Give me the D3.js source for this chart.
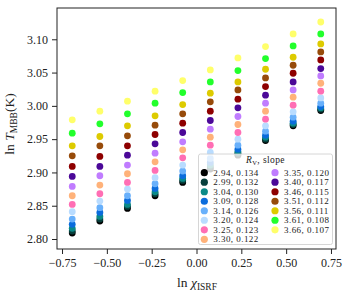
<!DOCTYPE html>
<html>
<head>
<meta charset="utf-8">
<script src="https://cdn.jsdelivr.net/npm/d3@7"></script>
<style>
  body { margin: 0; background: #fff; }
  svg text { font-family: "Liberation Serif", "DejaVu Serif", serif; fill: #222; }
</style>
</head>
<body>
<svg id="chart" width="344" height="292"></svg>
<script>
// x positions of the columns (ln chi_ISRF)
const lnChi = [-0.693, -0.539, -0.385, -0.231, -0.077, 0.077, 0.231, 0.385, 0.539, 0.693];

// one entry per R_V model, in legend order
const rvLabels = ["2.94", "2.99", "3.04", "3.09", "3.14", "3.20", "3.25", "3.30",
                  "3.35", "3.40", "3.46", "3.51", "3.56", "3.61", "3.66"];
const slopeLabels = ["0.134", "0.132", "0.130", "0.128", "0.126", "0.124", "0.123", "0.122",
                     "0.120", "0.117", "0.115", "0.112", "0.111", "0.108", "0.107"];
const colors = ["#000000", "#073f3c", "#0a8a88", "#0b6cdc", "#68b0fb", "#b9dcff", "#ff6eb4", "#ffb27a",
                "#c07cff", "#4b0898", "#8e0000", "#974b0a", "#ddcb00", "#22ff2c", "#ffff6a"];

// ln T_MBB, one row per R_V
const lnT = [
  [2.809, 2.827, 2.846, 2.865, 2.885, 2.905, 2.926, 2.948, 2.970, 2.993],
  [2.812, 2.830, 2.849, 2.868, 2.888, 2.908, 2.929, 2.950, 2.972, 2.995],
  [2.816, 2.834, 2.852, 2.871, 2.891, 2.911, 2.931, 2.953, 2.974, 2.997],
  [2.822, 2.840, 2.858, 2.876, 2.895, 2.915, 2.935, 2.956, 2.977, 2.999],
  [2.830, 2.847, 2.865, 2.883, 2.902, 2.921, 2.941, 2.962, 2.983, 3.004],
  [2.841, 2.857, 2.875, 2.892, 2.911, 2.930, 2.950, 2.970, 2.991, 3.012],
  [2.852, 2.868, 2.885, 2.903, 2.922, 2.941, 2.960, 2.980, 3.001, 3.022],
  [2.865, 2.881, 2.898, 2.916, 2.934, 2.953, 2.972, 2.992, 3.013, 3.034],
  [2.879, 2.895, 2.911, 2.929, 2.946, 2.965, 2.984, 3.004, 3.024, 3.045],
  [2.894, 2.909, 2.926, 2.943, 2.960, 2.978, 2.997, 3.016, 3.036, 3.056],
  [2.909, 2.924, 2.940, 2.957, 2.974, 2.992, 3.010, 3.029, 3.049, 3.069],
  [2.925, 2.940, 2.955, 2.971, 2.988, 3.006, 3.024, 3.042, 3.061, 3.081],
  [2.940, 2.954, 2.970, 2.985, 3.002, 3.019, 3.036, 3.055, 3.073, 3.093],
  [2.959, 2.973, 2.988, 3.004, 3.020, 3.036, 3.053, 3.071, 3.090, 3.108],
  [2.979, 2.992, 3.007, 3.022, 3.038, 3.054, 3.072, 3.089, 3.108, 3.126]
];

const xTicks = [-0.75, -0.5, -0.25, 0, 0.25, 0.5, 0.75];
const yTicks = [2.80, 2.85, 2.90, 2.95, 3.00, 3.05, 3.10];

const svg = d3.select("#chart");
const box = { left: 57, right: 336, top: 8, bottom: 249 };

const x = d3.scaleLinear().domain([-0.778, 0.778]).range([box.left, box.right]);
const y = d3.scaleLinear().domain([2.785, 3.147]).range([box.bottom, box.top]);

// points, first series drawn first so the later ones sit on top
const series = lnT.map((vals, i) => ({ color: colors[i], pts: vals.map((v, j) => [lnChi[j], v]) }));
svg.append("g").selectAll("g")
  .data(series)
  .join("g")
    .attr("fill", d => d.color)
  .selectAll("circle")
  .data(d => d.pts)
  .join("circle")
    .attr("cx", d => x(d[0]))
    .attr("cy", d => y(d[1]))
    .attr("r", 3.4);

// axes
const fmtX = d => d3.format(".2f")(d).replace("-", "\u2212");
const xAxis = svg.append("g")
  .attr("transform", `translate(0,${box.bottom})`)
  .call(d3.axisBottom(x).tickValues(xTicks).tickFormat(fmtX).tickSize(5).tickPadding(4));
const yAxis = svg.append("g")
  .attr("transform", `translate(${box.left},0)`)
  .call(d3.axisLeft(y).tickValues(yTicks).tickFormat(d3.format(".2f")).tickSize(5).tickPadding(4));

[xAxis, yAxis].forEach(a => {
  a.select(".domain").remove();
  a.selectAll(".tick line").attr("stroke", "#222").attr("stroke-width", 1);
  a.selectAll(".tick text").attr("font-size", 12).attr("font-family", null).attr("fill", "#333");
});

// frame
svg.append("rect")
  .attr("x", box.left).attr("y", box.top)
  .attr("width", box.right - box.left).attr("height", box.bottom - box.top)
  .attr("fill", "none").attr("stroke", "#222").attr("stroke-width", 1);

// axis labels
const xl = svg.append("text")
  .attr("x", 197).attr("y", 287)
  .attr("text-anchor", "middle").attr("font-size", 13.5);
xl.append("tspan").text("ln ");
xl.append("tspan").attr("font-style", "italic").text("\u03c7");
xl.append("tspan").attr("font-size", 9.5).attr("dy", 3).text("ISRF");

const yl = svg.append("text")
  .attr("transform", `translate(14,124) rotate(-90)`)
  .attr("text-anchor", "middle").attr("font-size", 13.5);
yl.append("tspan").text("ln ");
yl.append("tspan").attr("font-style", "italic").text("T");
yl.append("tspan").attr("font-size", 9.5).attr("dy", 3).text("MBB");
yl.append("tspan").attr("dy", -3).text("(K)");

// legend
const lg = svg.append("g");
lg.append("rect")
  .attr("x", 198.5).attr("y", 154).attr("width", 134).attr("height", 90.5)
  .attr("rx", 2)
  .attr("fill", "#fff").attr("fill-opacity", 0.8)
  .attr("stroke", "#ccc").attr("stroke-width", 0.8);

const lt = lg.append("text")
  .attr("x", 265.5).attr("y", 162.5)
  .attr("text-anchor", "middle").attr("font-size", 9.5).attr("letter-spacing", 0.4);
lt.append("tspan").attr("font-style", "italic").text("R");
lt.append("tspan").attr("font-size", 6.5).attr("dy", 2).text("V");
lt.append("tspan").attr("dy", -2).text(", slope");

const rowY = d3.scaleLinear().domain([0, 7]).range([172.7, 239.3]);
const items = rvLabels.map((r, i) => ({
  label: `${r}, ${slopeLabels[i]}`, color: colors[i],
  col: i < 8 ? 0 : 1, row: i < 8 ? i : i - 8
}));
const colX = [204.3, 275];

const it = lg.selectAll("g.item")
  .data(items)
  .join("g")
    .attr("class", "item")
    .attr("transform", d => `translate(${colX[d.col]},${rowY(d.row)})`);
it.append("circle").attr("r", 3.6).attr("fill", d => d.color);
it.append("text")
  .attr("x", 9).attr("dy", "0.33em")
  .attr("font-size", 9).attr("letter-spacing", 0.45)
  .text(d => d.label);
</script>
</body>
</html>
